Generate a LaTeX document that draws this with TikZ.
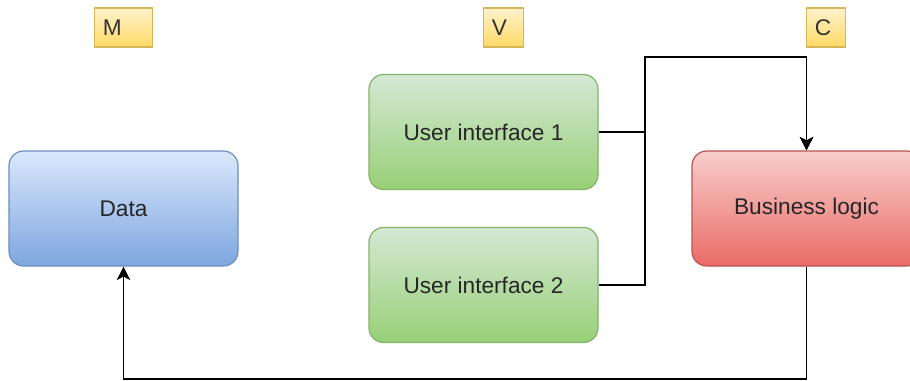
\documentclass[tikz,border=0pt]{standalone}
\usepackage{fontspec}
\setmainfont{Liberation Sans}
\usetikzlibrary{arrows.meta}
\definecolor{bluetop}{HTML}{DAE8FC}\definecolor{bluebot}{HTML}{7EA6E0}\definecolor{bluedraw}{HTML}{6C8EBF}
\definecolor{greentop}{HTML}{D5E8D4}\definecolor{greenbot}{HTML}{97D077}\definecolor{greendraw}{HTML}{82B366}
\definecolor{redtop}{HTML}{F8CECC}\definecolor{redbot}{HTML}{EA6B66}\definecolor{reddraw}{HTML}{B85450}
\definecolor{yeltop}{HTML}{FFF2CC}\definecolor{yelbot}{HTML}{FFD966}\definecolor{yeldraw}{HTML}{D6B656}
\tikzset{
  box/.style={rectangle, rounded corners=11pt, line width=0.9pt,
    minimum width=171.75pt, minimum height=86.25pt, inner sep=0pt,
    font=\fontsize{17}{20}\selectfont, text=black!85},
  bluebox/.style={box, draw=bluedraw, top color=bluetop, bottom color=bluebot},
  greenbox/.style={box, draw=greendraw, top color=greentop, bottom color=greenbot},
  redbox/.style={box, draw=reddraw, top color=redtop, bottom color=redbot},
  tag/.style={rectangle, draw=yeldraw, line width=0.9pt, top color=yeltop, bottom color=yelbot,
    minimum height=29.25pt, inner sep=0pt, text depth=0pt,
    font=\fontsize{17}{20}\selectfont, text=black!80, anchor=west, align=left},
  wire/.style={line width=1.3pt, black},
  tip/.style={-{Stealth[length=10pt, width=10pt, inset=2.5pt]}},
}
\begin{document}
\begin{tikzpicture}[x=0.75pt, y=-0.75pt]
  \useasboundingbox (0,0) rectangle (910,381);
  \clip (0,0) rectangle (910,381);

  % layer labels
  \node[tag, minimum width=43.5pt, text width=39pt] (m) at (94,27.5) {\hspace*{4pt}M};
  \node[tag, minimum width=30pt, text width=25.5pt] (v) at (483,27.5) {\hspace*{4pt}V};
  \node[tag, minimum width=29.25pt, text width=24.75pt] (c) at (806,27.5) {\hspace*{4pt}C};

  % components
  \node[bluebox] (data) at (123.5,208.5) {Data};
  \node[greenbox] (ui1) at (483.5,132) {User interface 1};
  \node[greenbox] (ui2) at (483.5,285) {User interface 2};
  \node[redbox] (bl) at (806.5,208.5) {Business logic};

  % routing points
  \coordinate (j1) at (645,132);
  \coordinate (j2) at (645,285);
  \coordinate (over) at (645,57);
  \coordinate (under) at (806.5,379);

  % view to controller
  \draw[wire, tip] (ui1.east) -- (j1) |- (over) -| (bl.north);
  \draw[wire, tip] (ui2.east) -- (j2) |- (over) -| (bl.north);

  % controller to model
  \draw[wire, tip] (bl.south) -- (under) -| (data.south);
\end{tikzpicture}
\end{document}
